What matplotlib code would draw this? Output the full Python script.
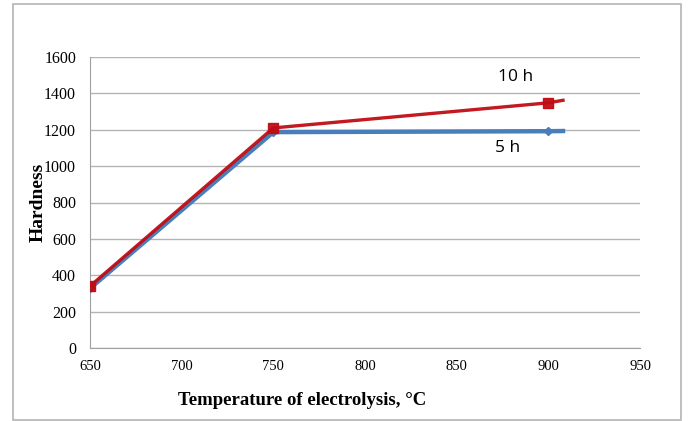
import matplotlib.pyplot as plt
from matplotlib.patches import Rectangle

# data
temp = [650, 750, 900, 908]
hard_10h = [340, 1210, 1348, 1362]
hard_5h = [328, 1187, 1192, 1193]

fig = plt.figure(figsize=(6.88, 4.21), dpi=100)
ax = fig.add_axes([90/688, 1 - 348/421, (640-90)/688, (348-57)/421])

# outer frame
fig.patches.append(Rectangle((13/688, 1/421), (681-13)/688, (417-1)/421,
                             transform=fig.transFigure, fill=False,
                             edgecolor="#b4b4b4", lw=1.2))

ax.plot(temp, hard_5h, color="#4a7ebb", lw=3.2, marker="D", ms=4.5,
        markevery=[0, 1, 2], zorder=3)
ax.plot(temp, hard_10h, color="#c00c14", lw=2.4, marker="s", ms=6.5,
        markevery=[0, 1, 2], zorder=4, alpha=0.95)

ax.set_xlim(650, 950)
ax.set_ylim(0, 1600)
ax.set_xticks(range(650, 951, 50))
ax.set_yticks(range(0, 1601, 200))
ax.yaxis.grid(True, color="#b4b4b4", lw=1)
ax.set_axisbelow(True)
for s in ["top", "right"]:
    ax.spines[s].set_visible(False)
for s in ["left", "bottom"]:
    ax.spines[s].set_color("#a0a0a0")
ax.tick_params(length=0)
ax.tick_params(axis="x", labelsize=10.5, pad=9)
ax.tick_params(axis="y", labelsize=11.5, pad=10)
for lab in ax.get_xticklabels() + ax.get_yticklabels():
    lab.set_family("Liberation Serif")

ax.set_ylabel("Hardness", family="Liberation Serif", fontweight="bold",
              fontsize=14, labelpad=-2)
ax.set_xlabel("Temperature of electrolysis, °C", family="Liberation Serif",
              fontweight="bold", fontsize=13.5, labelpad=13, x=0.385)

ax.text(882, 1470, "10 h", family="Open Sans", fontsize=12.5, ha="center")
ax.text(878, 1080, "5 h", family="Open Sans", fontsize=12.5, ha="center")

fig.savefig("out.png", dpi=100)
